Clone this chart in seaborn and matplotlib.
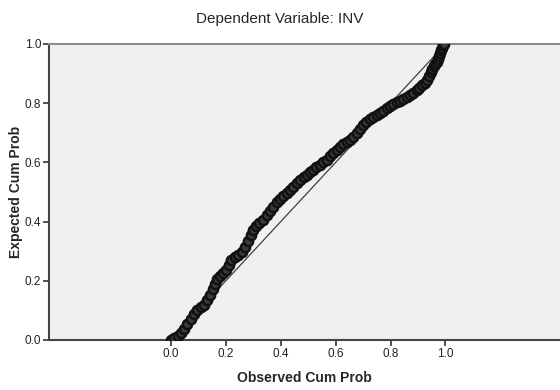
import pandas as pd
import seaborn as sns
import matplotlib.pyplot as plt

########## Data

observed = [0.000, 0.012, 0.024, 0.036, 0.048, 0.060, 0.072, 0.084, 0.096, 0.108,
            0.120, 0.132, 0.142, 0.152, 0.160, 0.168, 0.178, 0.190, 0.200, 0.210,
            0.220, 0.232, 0.245, 0.258, 0.270, 0.280, 0.290, 0.300, 0.310, 0.322,
            0.336, 0.350, 0.362, 0.373, 0.385, 0.397, 0.410, 0.421, 0.433, 0.445,
            0.458, 0.470, 0.483, 0.496, 0.508, 0.518, 0.530, 0.542, 0.555, 0.567,
            0.580, 0.592, 0.604, 0.616, 0.628, 0.640, 0.652, 0.664, 0.676, 0.688,
            0.700, 0.712, 0.724, 0.737, 0.750, 0.761, 0.773, 0.786, 0.798, 0.810,
            0.822, 0.834, 0.846, 0.858, 0.870, 0.883, 0.895, 0.905, 0.915, 0.925,
            0.933, 0.940, 0.946, 0.952, 0.958, 0.963, 0.968, 0.972, 0.976, 0.980,
            0.984, 0.988, 0.992, 0.996]
expected = [0.000, 0.006, 0.014, 0.025, 0.038, 0.055, 0.072, 0.088, 0.102, 0.110,
            0.118, 0.135, 0.152, 0.172, 0.190, 0.205, 0.215, 0.225, 0.237, 0.255,
            0.270, 0.280, 0.288, 0.298, 0.315, 0.335, 0.355, 0.372, 0.385, 0.395,
            0.407, 0.422, 0.437, 0.450, 0.465, 0.478, 0.488, 0.496, 0.506, 0.517,
            0.529, 0.540, 0.549, 0.558, 0.567, 0.575, 0.584, 0.592, 0.600, 0.609,
            0.620, 0.632, 0.643, 0.653, 0.661, 0.669, 0.677, 0.687, 0.698, 0.712,
            0.727, 0.738, 0.745, 0.752, 0.759, 0.766, 0.774, 0.783, 0.791, 0.798,
            0.805, 0.809, 0.813, 0.820, 0.828, 0.836, 0.845, 0.853, 0.860, 0.868,
            0.880, 0.893, 0.905, 0.915, 0.925, 0.933, 0.940, 0.950, 0.960, 0.970,
            0.980, 0.988, 0.995, 1.000]
ref_line = [0.0, 1.0]
tick_vals = [0.0, 0.2, 0.4, 0.6, 0.8, 1.0]

df = pd.DataFrame({"Observed": observed, "Expected": expected})
ref = pd.DataFrame({"x": ref_line, "y": ref_line})

########## Plotting

sns.set_style("white")
plt.rcParams['font.family'] = ['Liberation Sans', 'DejaVu Sans']

fig = plt.figure(figsize = (5.6, 3.9), dpi = 100)
ax = fig.add_axes([49 / 560, 50 / 390, 1 - 49 / 560, 296 / 390])
ax.set_facecolor("#f0f0f0")

sns.lineplot(data = ref, x = "x", y = "y", color = "#404040", linewidth = 0.9, ax = ax, zorder = 2)
sns.scatterplot(data = df, x = "Observed", y = "Expected", s = 44, marker = "o",
                facecolor = "#3a3a3a", edgecolor = "#111111", linewidth = 1.8, ax = ax, zorder = 3)

ax.set_xlim(-0.444, 1.417)
ax.set_ylim(0.0, 1.0)
ax.set_xticks(tick_vals)
ax.set_yticks(tick_vals)
ax.set_xticklabels([f"{v:.1f}" for v in tick_vals])
ax.set_yticklabels([f"{v:.1f}" for v in tick_vals])
ax.tick_params(axis = "both", direction = "out", length = 4, width = 1.2, color = "#333333",
               labelsize = 8.5, labelcolor = "#222222", pad = 1.5, bottom = True, left = True)

for side in ["left", "bottom"]:
    ax.spines[side].set_color("#444444")
    ax.spines[side].set_linewidth(1.5)
ax.spines["top"].set_color("#8c8c8c")
ax.spines["top"].set_linewidth(1.5)
ax.spines["right"].set_visible(False)

ax.set_xlabel("Observed Cum Prob", fontsize = 10, fontweight = "bold", labelpad = 8)
ax.set_ylabel("Expected Cum Prob", fontsize = 10, fontweight = "bold")
ax.yaxis.set_label_coords(-0.05, 0.5)
fig.text(0.5, 0.952, "Dependent Variable: INV", ha = "center", va = "center", fontsize = 11)

fig.savefig("out.png", dpi = 100)
